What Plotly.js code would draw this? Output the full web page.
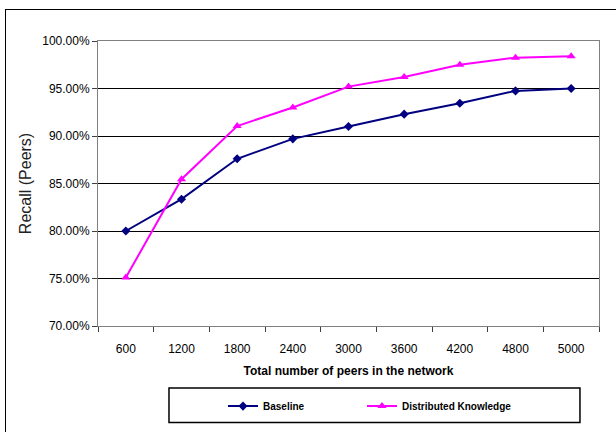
<!DOCTYPE html>
<html>
<head>
<meta charset="utf-8">
<script src="https://cdn.plot.ly/plotly-3.0.1.min.js"></script>
<style>
html,body{margin:0;padding:0;background:#fff;overflow:hidden;}
#wrap{position:relative;width:616px;height:432px;overflow:hidden;background:#fff;}
#frame{position:absolute;left:5px;top:9px;width:700px;height:500px;border-left:1.5px solid #000;border-top:1.5px solid #000;box-sizing:border-box;z-index:0;}
#chart{position:absolute;left:0;top:0;width:616px;height:432px;z-index:1;}
</style>
</head>
<body>
<div id="wrap"><div id="frame"></div><div id="chart"></div></div>
<script>
var peers = ['600', '1200', '1800', '2400', '3000', '3600', '4200', '4800', '5000'];
var baseline = [80.0, 83.35, 87.6, 89.7, 91.0, 92.3, 93.45, 94.75, 95.0];
var distributed = [75.1, 85.45, 91.05, 93.0, 95.2, 96.2, 97.5, 98.25, 98.4];
var yTicks = [70, 75, 80, 85, 90, 95, 100];

var FONT = 'Liberation Sans, Arial, sans-serif';

var traces = [
  {
    x: peers, y: baseline, name: 'Baseline', type: 'scatter', mode: 'lines+markers',
    line: {color: '#000080', width: 2},
    marker: {symbol: 'diamond', size: 7, color: '#000080'},
    legend: 'legend'
  },
  {
    x: peers, y: distributed, name: 'Distributed Knowledge', type: 'scatter', mode: 'lines+markers',
    line: {color: '#FF00FF', width: 2},
    marker: {symbol: 'triangle-up', size: 8, color: '#FF00FF'},
    legend: 'legend2'
  }
];

var legendCommon = {
  orientation: 'h', xanchor: 'left', y: -0.281, yanchor: 'middle',
  bgcolor: 'rgba(0,0,0,0)', borderwidth: 0,
  font: {family: FONT, size: 10, color: '#000', weight: 'bold'},
  itemwidth: 30
};

var layout = {
  width: 616, height: 432,
  margin: {l: 98, r: 17, t: 41, b: 106},
  paper_bgcolor: 'rgba(0,0,0,0)', plot_bgcolor: '#ffffff',
  font: {family: FONT, size: 12, color: '#000'},
  showlegend: true,
  xaxis: {
    type: 'category', range: [-0.5, 8.5],
    showgrid: false, zeroline: false,
    showline: true, linecolor: '#808080', linewidth: 1, mirror: true,
    ticks: 'outside', tickson: 'boundaries', ticklen: 5, tickcolor: '#404040',
    ticklabelstandoff: 12,
    tickfont: {family: FONT, size: 12, color: '#000'},
    title: {text: 'Total number of peers in the network', font: {family: FONT, size: 12, color: '#000', weight: 'bold'}, standoff: 11}
  },
  yaxis: {
    range: [70, 100], tickvals: yTicks,
    ticktext: yTicks.map(function(v){ return v.toFixed(2) + '%'; }),
    showgrid: true, gridcolor: '#000000', gridwidth: 1, zeroline: false,
    showline: true, linecolor: '#808080', linewidth: 1, mirror: true,
    ticks: 'outside', ticklen: 5, tickcolor: '#404040',
    tickfont: {family: FONT, size: 12, color: '#000'},
    title: {text: 'Recall (Peers)', font: {family: FONT, size: 16, color: '#222'}, standoff: 6}
  },
  legend: Object.assign({x: 0.2495}, legendCommon),
  legend2: Object.assign({x: 0.5269}, legendCommon),
  shapes: [
    {type: 'rect', xref: 'paper', yref: 'paper', x0: 0.1417, x1: 0.962, y0: -0.3386, y1: -0.2175,
     line: {color: '#000', width: 1.5}, fillcolor: 'rgba(0,0,0,0)', layer: 'below'}
  ]
};

Plotly.newPlot('chart', traces, layout, {displayModeBar: false, staticPlot: true});
</script>
</body>
</html>
